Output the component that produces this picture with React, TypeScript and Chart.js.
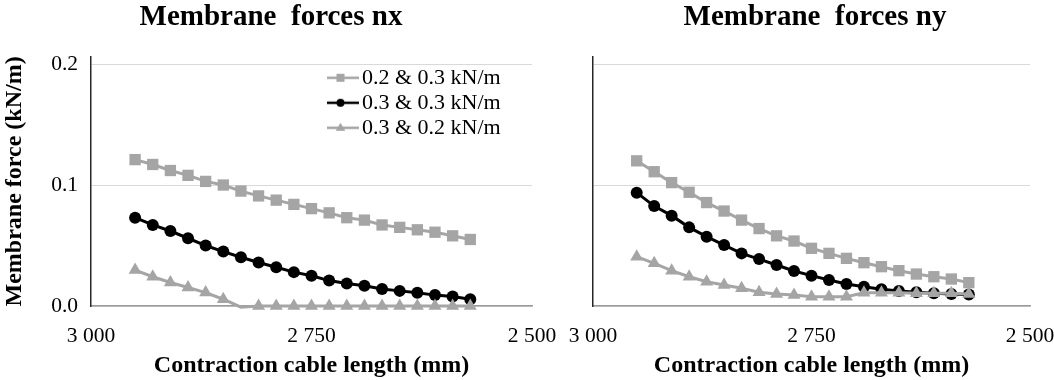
import React, { useEffect, useRef } from "react";
import { Chart, registerables } from "chart.js";

Chart.register(...registerables);

// ---- data ----
const cableLengths = [2950, 2930, 2910, 2890, 2870, 2850, 2830, 2810, 2790, 2770, 2750, 2730, 2710, 2690, 2670, 2650, 2630, 2610, 2590, 2570];

const seriesLabels = ["0.2 & 0.3 kN/m", "0.3 & 0.3 kN/m", "0.3 & 0.2 kN/m"];

const nx_02_03 = [0.121, 0.117, 0.112, 0.108, 0.103, 0.1, 0.095, 0.091, 0.0875, 0.084, 0.0805, 0.077, 0.073, 0.071, 0.067, 0.065, 0.063, 0.061, 0.058, 0.055];
const nx_03_03 = [0.073, 0.067, 0.062, 0.056, 0.05, 0.045, 0.0403, 0.036, 0.032, 0.028, 0.025, 0.021, 0.0186, 0.0167, 0.014, 0.0125, 0.011, 0.009, 0.0078, 0.0056];
const nx_03_02 = [0.0297, 0.0242, 0.0194, 0.0153, 0.0111, 0.0056, -0.001, 0, 0, 0, 0, 0, 0, 0, 0, 0, 0, 0, 0, 0];

const ny_02_03 = [0.12, 0.111, 0.102, 0.094, 0.0855, 0.0785, 0.071, 0.064, 0.058, 0.0537, 0.0477, 0.0435, 0.0394, 0.0358, 0.0325, 0.0292, 0.0264, 0.0242, 0.0223, 0.0193];
const ny_03_03 = [0.0937, 0.0826, 0.0747, 0.065, 0.0573, 0.0504, 0.0435, 0.0388, 0.0339, 0.0289, 0.0251, 0.0215, 0.0182, 0.016, 0.0138, 0.0124, 0.0113, 0.0105, 0.0099, 0.0096];
const ny_03_02 = [0.0408, 0.0353, 0.0292, 0.0242, 0.0201, 0.0174, 0.0146, 0.0113, 0.0099, 0.0091, 0.0077, 0.0077, 0.0077, 0.011, 0.011, 0.011, 0.0105, 0.0105, 0.0105, 0.0099];

const yTicks = [0, 0.1, 0.2];
const yTickLabels = ["0.0", "0.1", "0.2"];
const xTicks = [3000, 2750, 2500];
const xTickLabels = ["3 000", "2 750", "2 500"];

const titleNx = "Membrane  forces nx";
const titleNy = "Membrane  forces ny";
const xTitle = "Contraction cable length (mm)";
const yTitle = "Membrane force (kN/m)";

// ---- styles ----
const FONT = "'Liberation Serif', 'Times New Roman', serif";
const GRAY = "#a5a5a5";
const BLACK = "#000000";
const seriesColors = [GRAY, BLACK, GRAY];
const seriesStyles = ["rect", "circle", "triangle"];
const seriesRadius = [8, 6, 7.5];
const seriesOrder = [2, 1, 0];

function toPoints(values: number[]) {
  return cableLengths.map((x, i) => ({ x, y: values[i] }));
}

function makeLegendSample(color: string, style: string) {
  const c = document.createElement("canvas");
  c.width = 37;
  c.height = 16;
  const g = c.getContext("2d")!;
  g.strokeStyle = color;
  g.lineWidth = 2.5;
  g.beginPath();
  g.moveTo(0, 8);
  g.lineTo(37, 8);
  g.stroke();
  g.fillStyle = color;
  const cx = 18.5;
  const cy = 8;
  if (style === "rect") {
    g.fillRect(cx - 4, cy - 4, 8, 8);
  } else if (style === "circle") {
    g.beginPath();
    g.arc(cx, cy, 4, 0, Math.PI * 2);
    g.fill();
  } else {
    g.beginPath();
    g.moveTo(cx, cy - 5);
    g.lineTo(cx + 4.8, cy + 3);
    g.lineTo(cx - 4.8, cy + 3);
    g.closePath();
    g.fill();
  }
  return c;
}

const legendPlacement = {
  id: "legendPlacement",
  afterLayout(chart: any) {
    const lg = chart.legend;
    if (!lg || !lg.options || !lg.options.display) return;
    const w = lg.width;
    const h = lg.height;
    lg.left = chart.chartArea.right - 205;
    lg.right = lg.left + w + 30;
    lg.top = chart.chartArea.top + 7;
    lg.bottom = lg.top + h;
  },
};

function buildConfig(
  title: string,
  series: number[][],
  opts: { showY: boolean; showLegend: boolean; padLeft: number; padRight: number; yWidth: number; xPadRight: number }
): any {
  const datasets = series.map((vals, i) => ({
    label: seriesLabels[i],
    data: toPoints(vals),
    borderColor: seriesColors[i],
    backgroundColor: seriesColors[i],
    pointBackgroundColor: seriesColors[i],
    pointBorderColor: seriesColors[i],
    pointBorderWidth: 0,
    pointStyle: seriesStyles[i],
    pointRadius: (ctx: any) => (ctx.raw && ctx.raw.y < 0 ? 0 : seriesRadius[i]),
    borderWidth: 3,
    tension: 0,
    order: seriesOrder[i],
    clip: false,
  }));

  return {
    type: "line",
    data: { datasets },
    options: {
      animation: false,
      responsive: false,
      events: [],
      layout: { padding: { left: opts.padLeft, right: opts.padRight, top: 0, bottom: 0 } },
      plugins: {
        title: {
          display: true,
          text: title,
          color: "#000",
          font: { family: FONT, size: 29, weight: "bold", lineHeight: 1.2 },
          padding: { top: 0, bottom: 22 },
        },
        legend: {
          display: opts.showLegend,
          position: "chartArea",
          align: "start",
          labels: {
            usePointStyle: true,
            pointStyleWidth: 21,
            padding: 3,
            color: "#000",
            font: { family: FONT, size: 22, lineHeight: 1 },
            generateLabels: () =>
              seriesLabels.map((t, i) => ({
                text: t,
                pointStyle: makeLegendSample(seriesColors[i], seriesStyles[i]),
                fillStyle: "transparent",
                strokeStyle: "transparent",
                lineWidth: 0,
                hidden: false,
                datasetIndex: i,
                fontColor: "#000",
              })),
          },
        },
        tooltip: { enabled: false },
      },
      scales: {
        x: {
          type: "linear",
          min: 2500,
          max: 3000,
          reverse: true,
          afterBuildTicks: (s: any) => {
            s.ticks = xTicks.map((v) => ({ value: v }));
          },
          ticks: {
            autoSkip: false,
            maxRotation: 0,
            padding: 17,
            color: "#000",
            font: { family: FONT, size: 21.5 },
            callback: (v: number) => xTickLabels[xTicks.indexOf(v)],
          },
          grid: { display: false, drawTicks: false },
          border: { display: true, color: "#9a9a9a", width: 1.5 },
          title: {
            display: true,
            text: xTitle,
            color: "#000",
            font: { family: FONT, size: 24, weight: "bold", lineHeight: 1.2 },
            padding: 0,
          },
          afterFit: (s: any) => {
            s.height = 74;
            s.paddingLeft = 0;
            s.paddingRight = opts.xPadRight;
          },
        },
        y: {
          type: "linear",
          min: 0,
          max: 0.206,
          afterBuildTicks: (s: any) => {
            s.ticks = yTicks.map((v) => ({ value: v }));
          },
          ticks: {
            display: opts.showY,
            padding: 13,
            color: "#000",
            font: { family: FONT, size: 21.5 },
            callback: (v: number) => yTickLabels[yTicks.indexOf(v)],
          },
          grid: { color: "#d9d9d9", lineWidth: 1, drawTicks: false },
          border: { display: true, color: "#262626", width: 1.5 },
          title: {
            display: opts.showY,
            text: yTitle,
            color: "#000",
            font: { family: FONT, size: 24, weight: "bold", lineHeight: 1.2 },
            padding: 0,
          },
          afterFit: (s: any) => {
            s.width = opts.yWidth;
          },
        },
      },
    },
    plugins: [legendPlacement],
  };
}

export default function App() {
  const leftRef = useRef<HTMLCanvasElement | null>(null);
  const rightRef = useRef<HTMLCanvasElement | null>(null);

  useEffect(() => {
    const left = new Chart(
      leftRef.current!,
      buildConfig(titleNx, [nx_02_03, nx_03_03, nx_03_02], {
        showY: true,
        showLegend: true,
        padLeft: 0,
        padRight: 18,
        yWidth: 91,
        xPadRight: 28,
      })
    );
    const right = new Chart(
      rightRef.current!,
      buildConfig(titleNy, [ny_02_03, ny_03_03, ny_03_02], {
        showY: false,
        showLegend: false,
        padLeft: 16,
        padRight: 0,
        yWidth: 17,
        xPadRight: 24,
      })
    );
    return () => {
      left.destroy();
      right.destroy();
    };
  }, []);

  return (
    <div style={{ position: "absolute", left: 0, top: 0, width: 1054, height: 380, background: "#fff" }}>
      <canvas ref={leftRef} width={560} height={380} style={{ position: "absolute", left: 0, top: 0, width: 560, height: 380 }} />
      <canvas ref={rightRef} width={494} height={380} style={{ position: "absolute", left: 560, top: 0, width: 494, height: 380 }} />
    </div>
  );
}
